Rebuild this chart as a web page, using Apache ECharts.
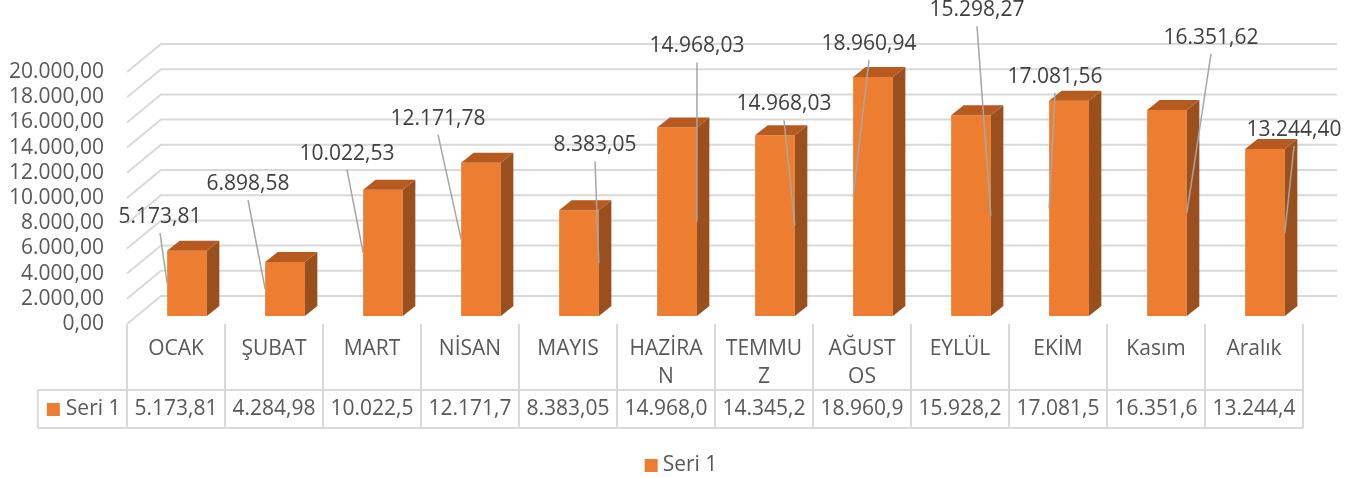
<!DOCTYPE html>
<html lang="tr">
<head>
    <meta charset="UTF-8">
    <title>Seri 1</title>
    <script type="text/javascript" src="https://cdn.jsdelivr.net/npm/echarts@6/dist/echarts.min.js"></script>
    <style>
        html, body { margin: 0; padding: 0; background: #fff; }
        #main { width: 1362px; height: 477px; }
    </style>
</head>
<body>
<div id="main"></div>
<script>
    // aylar ve seri değerleri
    var months = ['OCAK', 'ŞUBAT', 'MART', 'NİSAN', 'MAYIS', 'HAZİRAN', 'TEMMUZ', 'AĞUSTOS', 'EYLÜL', 'EKİM', 'Kasım', 'Aralık'];
    var seri1 = [5173.81, 4284.98, 10022.53, 12171.78, 8383.05, 14968.03, 14345.20, 18960.94, 15928.20, 17081.56, 16351.62, 13244.40];
    // grafikteki veri etiketleri (elle yazılmış)
    var labelTexts = ['5.173,81', '6.898,58', '10.022,53', '12.171,78', '8.383,05', '14.968,03', '14.968,03', '18.960,94', '15.298,27', '17.081,56', '16.351,62', '13.244,40'];
    var yTicks = [0, 2000, 4000, 6000, 8000, 10000, 12000, 14000, 16000, 18000, 20000];

    // etiketlerin sürüklendiği yer (px, sütun ortası / çubuk tepesine göre)
    var labelShiftX = [-16, -26, -25, -32, 27, 31, 20, 7, 17, -3, 55, 40];
    var labelShiftY = [-34, -78, -36, -44, -65, -81, -31, -33, -105, -24, -72, -19];

    var FONT = '21px "Open Sans"';
    var WALL_DX = 34, WALL_DY = -28;   // arka duvar derinliği
    var BAR_DX = 12.5, BAR_DY = -10;   // çubuk derinliği

    function trNum(v) {
        var s = v.toFixed(2).split('.');
        return s[0].replace(/\B(?=(\d{3})+(?!\d))/g, '.') + ',' + s[1];
    }

    // kategori adını hücre genişliğine göre harf harf böl (Excel gibi)
    var measureCtx = document.createElement('canvas').getContext('2d');
    measureCtx.font = FONT;
    function wrapLabel(s, maxW) {
        var lines = [], cur = '';
        for (var k = 0; k < s.length; k++) {
            var t = cur + s[k];
            if (cur && measureCtx.measureText(t).width > maxW) {
                lines.push(cur);
                cur = s[k];
            } else {
                cur = t;
            }
        }
        lines.push(cur);
        return lines.join('\n');
    }

    // ızgara çizgileri: sol duvar + arka duvar
    function renderWall(params, api) {
        var y = api.coord([0, api.value(1)])[1];
        var cs = params.coordSys;
        return {
            type: 'polyline',
            shape: { points: [[cs.x, y], [cs.x + WALL_DX, y + WALL_DY], [cs.x + cs.width + WALL_DX, y + WALL_DY]] },
            style: { stroke: '#D9D9D9', lineWidth: 2, fill: null }
        };
    }

    // 3B sütunlar, etiketler ve kılavuz çizgileri
    function renderBar(params, api) {
        var i = api.value(0), v = api.value(1);
        var top = api.coord([i, v]), base = api.coord([i, 0]);
        var band = api.size([1, 0])[0];
        var w = band * 0.405;
        var x0 = top[0] + 11 - w / 2, x1 = x0 + w;
        var yt = top[1] - 8, yb = base[1] - 8;
        var lx = top[0] + labelShiftX[i], ly = yt + labelShiftY[i];
        var ex = lx < (x0 + x1) / 2 ? x0 : x1;
        return {
            type: 'group',
            children: [
                { type: 'rect', shape: { x: x0, y: yt, width: w, height: yb - yt }, style: { fill: '#ED7D31' } },
                { type: 'polygon', shape: { points: [[x1, yt], [x1 + BAR_DX, yt + BAR_DY], [x1 + BAR_DX, yb + BAR_DY], [x1, yb]] }, style: { fill: '#9A4F1E' } },
                { type: 'polygon', shape: { points: [[x0, yt], [x1, yt], [x1 + BAR_DX, yt + BAR_DY], [x0 + BAR_DX, yt + BAR_DY]] }, style: { fill: '#B65A20' } },
                { type: 'line', shape: { x1: lx, y1: ly + 16, x2: ex, y2: (yt + yb) / 2 }, style: { stroke: '#A6A6A6', lineWidth: 1.5 } },
                { type: 'text', style: { text: labelTexts[i], x: lx, y: ly, align: 'center', verticalAlign: 'middle', font: FONT, fill: '#404040' } }
            ]
        };
    }

    // veri tablosu
    function renderTable(params, api) {
        var i = api.value(0);
        var p = api.coord([i, 0]);
        var band = api.size([1, 0])[0];
        var xl = p[0] - band / 2, xr = p[0] + band / 2;
        var y0 = p[1], y1 = p[1] + 66, y2 = p[1] + 104;
        var ln = { stroke: '#D9D9D9', lineWidth: 2 };
        var kids = [
            { type: 'line', shape: { x1: xl, y1: y0, x2: xl, y2: y2 }, style: ln },
            { type: 'line', shape: { x1: xl, y1: y1, x2: xr, y2: y1 }, style: ln },
            { type: 'line', shape: { x1: xl, y1: y2, x2: xr, y2: y2 }, style: ln },
            { type: 'text', style: { text: trNum(api.value(1)).slice(0, 8), x: p[0], y: (y1 + y2) / 2, align: 'center', verticalAlign: 'middle', font: FONT, fill: '#595959' } }
        ];
        if (i === months.length - 1) {
            kids.push({ type: 'line', shape: { x1: xr, y1: y0, x2: xr, y2: y2 }, style: ln });
        }
        if (i === 0) {
            var hx = xl - band * 0.91;
            kids.push(
                { type: 'line', shape: { x1: hx, y1: y1, x2: xl, y2: y1 }, style: ln },
                { type: 'line', shape: { x1: hx, y1: y2, x2: xl, y2: y2 }, style: ln },
                { type: 'line', shape: { x1: hx, y1: y1, x2: hx, y2: y2 }, style: ln },
                { type: 'rect', shape: { x: hx + 9, y: (y1 + y2) / 2 - 6, width: 13, height: 13 }, style: { fill: '#ED7D31' } },
                { type: 'text', style: { text: 'Seri 1', x: hx + 28, y: (y1 + y2) / 2, align: 'left', verticalAlign: 'middle', font: FONT, fill: '#595959' } }
            );
        }
        return { type: 'group', children: kids };
    }

    var chartDom = document.getElementById('main');
    var myChart = echarts.init(chartDom);
    var option = {
        animation: false,
        grid: { left: 127, right: 59, top: 72, bottom: 153 },
        legend: {
            data: ['Seri 1'],
            bottom: -4,
            left: 'center',
            icon: 'rect',
            itemWidth: 13,
            itemHeight: 13,
            textStyle: { fontFamily: 'Open Sans', fontSize: 21, color: '#595959' }
        },
        xAxis: {
            type: 'category',
            data: months,
            axisLine: { show: false },
            axisTick: { show: false },
            axisLabel: {
                interval: 0,
                margin: 11,
                lineHeight: 28,
                fontFamily: 'Open Sans',
                fontSize: 21,
                color: '#595959',
                formatter: function (s) { return wrapLabel(s, 80); }
            }
        },
        yAxis: {
            type: 'value',
            min: 0,
            max: 20000,
            interval: 2000,
            splitLine: { show: false },
            axisLine: { show: false },
            axisTick: { show: false },
            axisLabel: {
                margin: 23,
                fontFamily: 'Open Sans',
                fontSize: 21,
                color: '#595959',
                formatter: function (v) { return trNum(v); }
            }
        },
        series: [
            {
                type: 'custom',
                name: 'grid',
                renderItem: renderWall,
                data: yTicks.map(function (v) { return [0, v]; }),
                z: 1,
                silent: true
            },
            {
                type: 'custom',
                name: 'table',
                renderItem: renderTable,
                data: seri1.map(function (v, i) { return [i, v]; }),
                z: 1,
                silent: true
            },
            {
                type: 'custom',
                name: 'Seri 1',
                renderItem: renderBar,
                itemStyle: { color: '#ED7D31' },
                data: seri1.map(function (v, i) { return [i, v]; }),
                z: 2
            }
        ]
    };
    myChart.setOption(option);
</script>
</body>
</html>
